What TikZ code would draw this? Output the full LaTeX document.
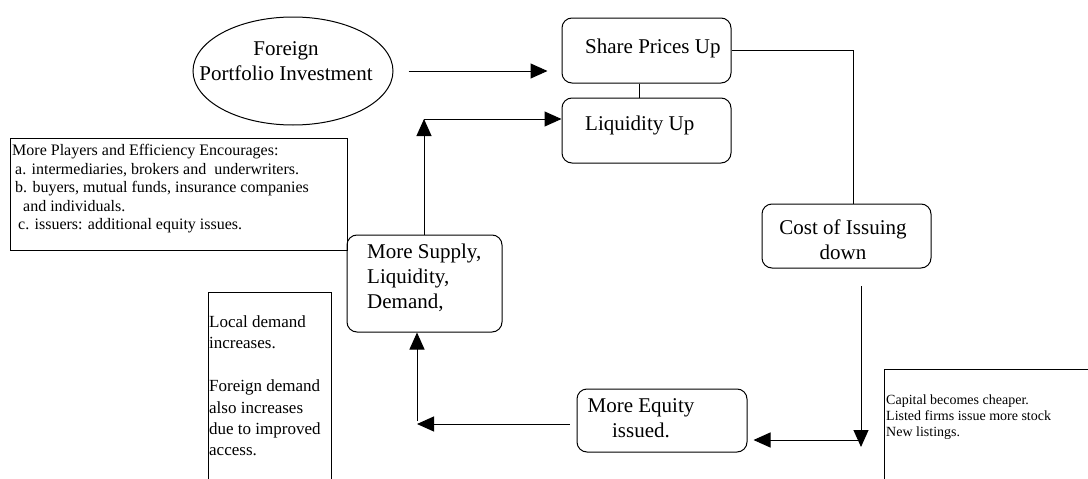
\documentclass[tikz,border=0pt]{standalone}
\usepackage{fontspec}
\setmainfont{Liberation Serif}
\usetikzlibrary{arrows.meta,shapes.geometric}
\begin{document}
\begin{tikzpicture}[x=1pt,y=-1pt,
  rbox/.style={draw, line width=1pt, rounded corners=10pt, inner sep=0pt},
  pbox/.style={draw, line width=1pt, inner sep=0pt},
  arr/.style={line width=1pt, -{Triangle[length=17pt,width=15pt]}},
  link/.style={line width=1pt},
  big/.style={inner sep=0pt, font=\fontsize{21}{25}\selectfont},
  mid/.style={inner sep=0pt, font=\fontsize{16}{18.5}\selectfont},
  side/.style={inner sep=0pt, font=\fontsize{17}{21.5}\selectfont},
  small/.style={inner sep=0pt, font=\fontsize{14}{16}\selectfont}]
\useasboundingbox (0,0) rectangle (1088,479);
\clip (0,0) rectangle (1088,479);

% ellipse: foreign portfolio investment
\node[ellipse, draw, line width=1pt, minimum width=200pt, minimum height=108pt, inner sep=0pt] (fpi) at (293,71) {};
\node[big, align=center] (fpi-t) at (286,61.5) {Foreign\\Portfolio Investment};

% rounded process boxes
\node[rbox, minimum width=169pt, minimum height=65pt] (share) at (646.5,50.5) {};
\node[big, anchor=west] (share-t) at (585,48) {Share Prices Up};

\node[rbox, minimum width=169pt, minimum height=65pt] (liq) at (646.5,130.5) {};
\node[big, anchor=west] (liq-t) at (585,125) {Liquidity Up};

\node[rbox, minimum width=155pt, minimum height=97pt] (supply) at (424.5,283.5) {};
\node[big, anchor=west, align=left] (supply-t) at (367,278) {More Supply,\\Liquidity,\\Demand,};

\node[rbox, minimum width=169pt, minimum height=64pt] (cost) at (846.5,236) {};
\node[big, align=center] (cost-t) at (843,239.5) {Cost of Issuing\\down};

\node[rbox, minimum width=170pt, minimum height=63pt] (equity) at (662,420.5) {};
\node[big, align=center] (equity-t) at (641,418.5) {More Equity\\issued.};

% plain note boxes
\node[pbox, minimum width=337pt, minimum height=112pt] (players) at (178.5,194) {};
\node[mid, anchor=west, align=left] (players-t) at (12,189) {More Players and Efficiency Encourages:\\
\hspace{3pt}a. intermediaries, brokers and\ \ underwriters.\\
\hspace{3pt}b. buyers, mutual funds, insurance companies\\
\hspace{11pt}and individuals.\\
\hspace{6pt}c. issuers: additional equity issues.};

\node[pbox, minimum width=123pt, minimum height=200pt] (local) at (269.5,392) {};
\node[side, anchor=north west, align=left] (local-t) at (209,315) {Local demand\\increases.\\[21.5pt]Foreign demand\\also increases\\due to improved\\access.};

\node[pbox, minimum width=230pt, minimum height=130pt] (capital) at (999,434) {};
\node[small, anchor=west, align=left] (capital-t) at (886,417) {Capital becomes cheaper.\\Listed firms issue more stock\\New listings.};

% connectors
\draw[arr, shorten <=15pt, shorten >=14pt] (fpi.east) -- (fpi.east -| share.west);
\draw[link] ([xshift=-7.5pt]share.south) -- ([xshift=-7.5pt]liq.north);
\coordinate (up) at (424,119);
\draw[arr] (supply.north -| up) -- (up);
\draw[arr] (up) -- (up -| liq.west);
\draw[link] (share.east) -| ([xshift=6.5pt]cost.north);
\coordinate (dtop) at (861,286);
\coordinate (dbot) at (861,447);
\draw[arr] (dtop) -- (dbot);
\coordinate (rgt) at (861,440);
\draw[arr, shorten >=6pt] (rgt) -- (rgt -| equity.east);
\coordinate (corner) at (417,424);
\draw[arr, shorten <=7pt] (corner -| equity.west) -- (corner);
\draw[arr] ([yshift=3pt]corner) -- (corner |- supply.south);
\end{tikzpicture}
\end{document}
